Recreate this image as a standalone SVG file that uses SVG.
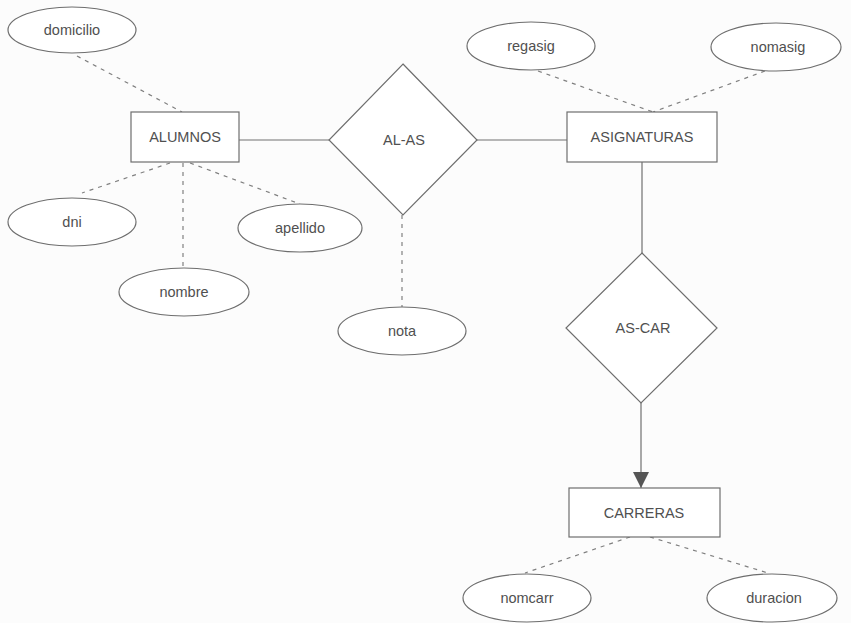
<svg xmlns="http://www.w3.org/2000/svg" width="851" height="623" viewBox="0 0 851 623">
  <style>
    .shape { fill: #ffffff; stroke: #6e6e6e; stroke-width: 1.2; }
    .link { fill: none; stroke: #707070; stroke-width: 1.2; }
    .attr { fill: none; stroke: #808080; stroke-width: 1.2; stroke-dasharray: 4 5; }
    text { font-family: "Liberation Sans", Arial, sans-serif; font-size: 14.5px; fill: #505050; text-anchor: middle; }
  </style>
  <defs>
    <marker id="arrow" viewBox="0 0 16 16" refX="16" refY="8" markerWidth="16" markerHeight="16" markerUnits="userSpaceOnUse" orient="auto">
      <path d="M0,0 L16,8 L0,16 Z" fill="#555555"/>
    </marker>
  </defs>
  <rect x="0" y="0" width="851" height="623" fill="#fcfcfc"/>

  <g id="connectors">
    <!-- relationship links -->
    <line class="link" x1="239" y1="140" x2="329" y2="140"/>
    <line class="link" x1="477" y1="140" x2="567" y2="140"/>
    <line class="link" x1="642" y1="162" x2="642" y2="253"/>
    <line class="link" x1="641" y1="403" x2="641" y2="488" marker-end="url(#arrow)"/>
    <!-- attribute links -->
    <line class="attr" x1="77" y1="56" x2="182" y2="112"/>
    <line class="attr" x1="170" y1="163" x2="82" y2="193"/>
    <line class="attr" x1="183" y1="163" x2="183" y2="268"/>
    <line class="attr" x1="190" y1="163" x2="300" y2="204"/>
    <line class="attr" x1="402" y1="215" x2="402" y2="307"/>
    <line class="attr" x1="538" y1="71" x2="653" y2="112"/>
    <line class="attr" x1="765" y1="71" x2="653" y2="112"/>
    <line class="attr" x1="630" y1="537" x2="525" y2="573"/>
    <line class="attr" x1="650" y1="537" x2="768" y2="573"/>
  </g>

  <g id="alumnos">
    <rect class="shape" x="131" y="112" width="108" height="50"/>
    <text x="185" y="142">ALUMNOS</text>
  </g>
  <g id="asignaturas">
    <rect class="shape" x="567" y="112" width="150" height="50"/>
    <text x="642" y="142">ASIGNATURAS</text>
  </g>
  <g id="carreras">
    <rect class="shape" x="569" y="488" width="151" height="49"/>
    <text x="644" y="518">CARRERAS</text>
  </g>

  <g id="al-as">
    <polygon class="shape" points="403,64 477,140 403,215 329,140"/>
    <text x="404" y="145">AL-AS</text>
  </g>
  <g id="as-car">
    <polygon class="shape" points="642,253 717,328 641,403 566,328"/>
    <text x="643" y="333">AS-CAR</text>
  </g>

  <g id="domicilio">
    <ellipse class="shape" cx="72" cy="30" rx="64" ry="23"/>
    <text x="72" y="35">domicilio</text>
  </g>
  <g id="dni">
    <ellipse class="shape" cx="72" cy="222" rx="64" ry="24"/>
    <text x="72" y="227">dni</text>
  </g>
  <g id="nombre">
    <ellipse class="shape" cx="184" cy="292" rx="65" ry="24"/>
    <text x="184" y="297">nombre</text>
  </g>
  <g id="apellido">
    <ellipse class="shape" cx="300" cy="228" rx="62" ry="24"/>
    <text x="300" y="233">apellido</text>
  </g>
  <g id="nota">
    <ellipse class="shape" cx="402" cy="331" rx="64" ry="24"/>
    <text x="402" y="336">nota</text>
  </g>
  <g id="regasig">
    <ellipse class="shape" cx="531" cy="46" rx="64" ry="24"/>
    <text x="531" y="51">regasig</text>
  </g>
  <g id="nomasig">
    <ellipse class="shape" cx="776" cy="47" rx="65" ry="24"/>
    <text x="778" y="52">nomasig</text>
  </g>
  <g id="nomcarr">
    <ellipse class="shape" cx="527" cy="598" rx="64" ry="24"/>
    <text x="527" y="603">nomcarr</text>
  </g>
  <g id="duracion">
    <ellipse class="shape" cx="772" cy="598" rx="65" ry="24"/>
    <text x="774" y="603">duracion</text>
  </g>
</svg>
